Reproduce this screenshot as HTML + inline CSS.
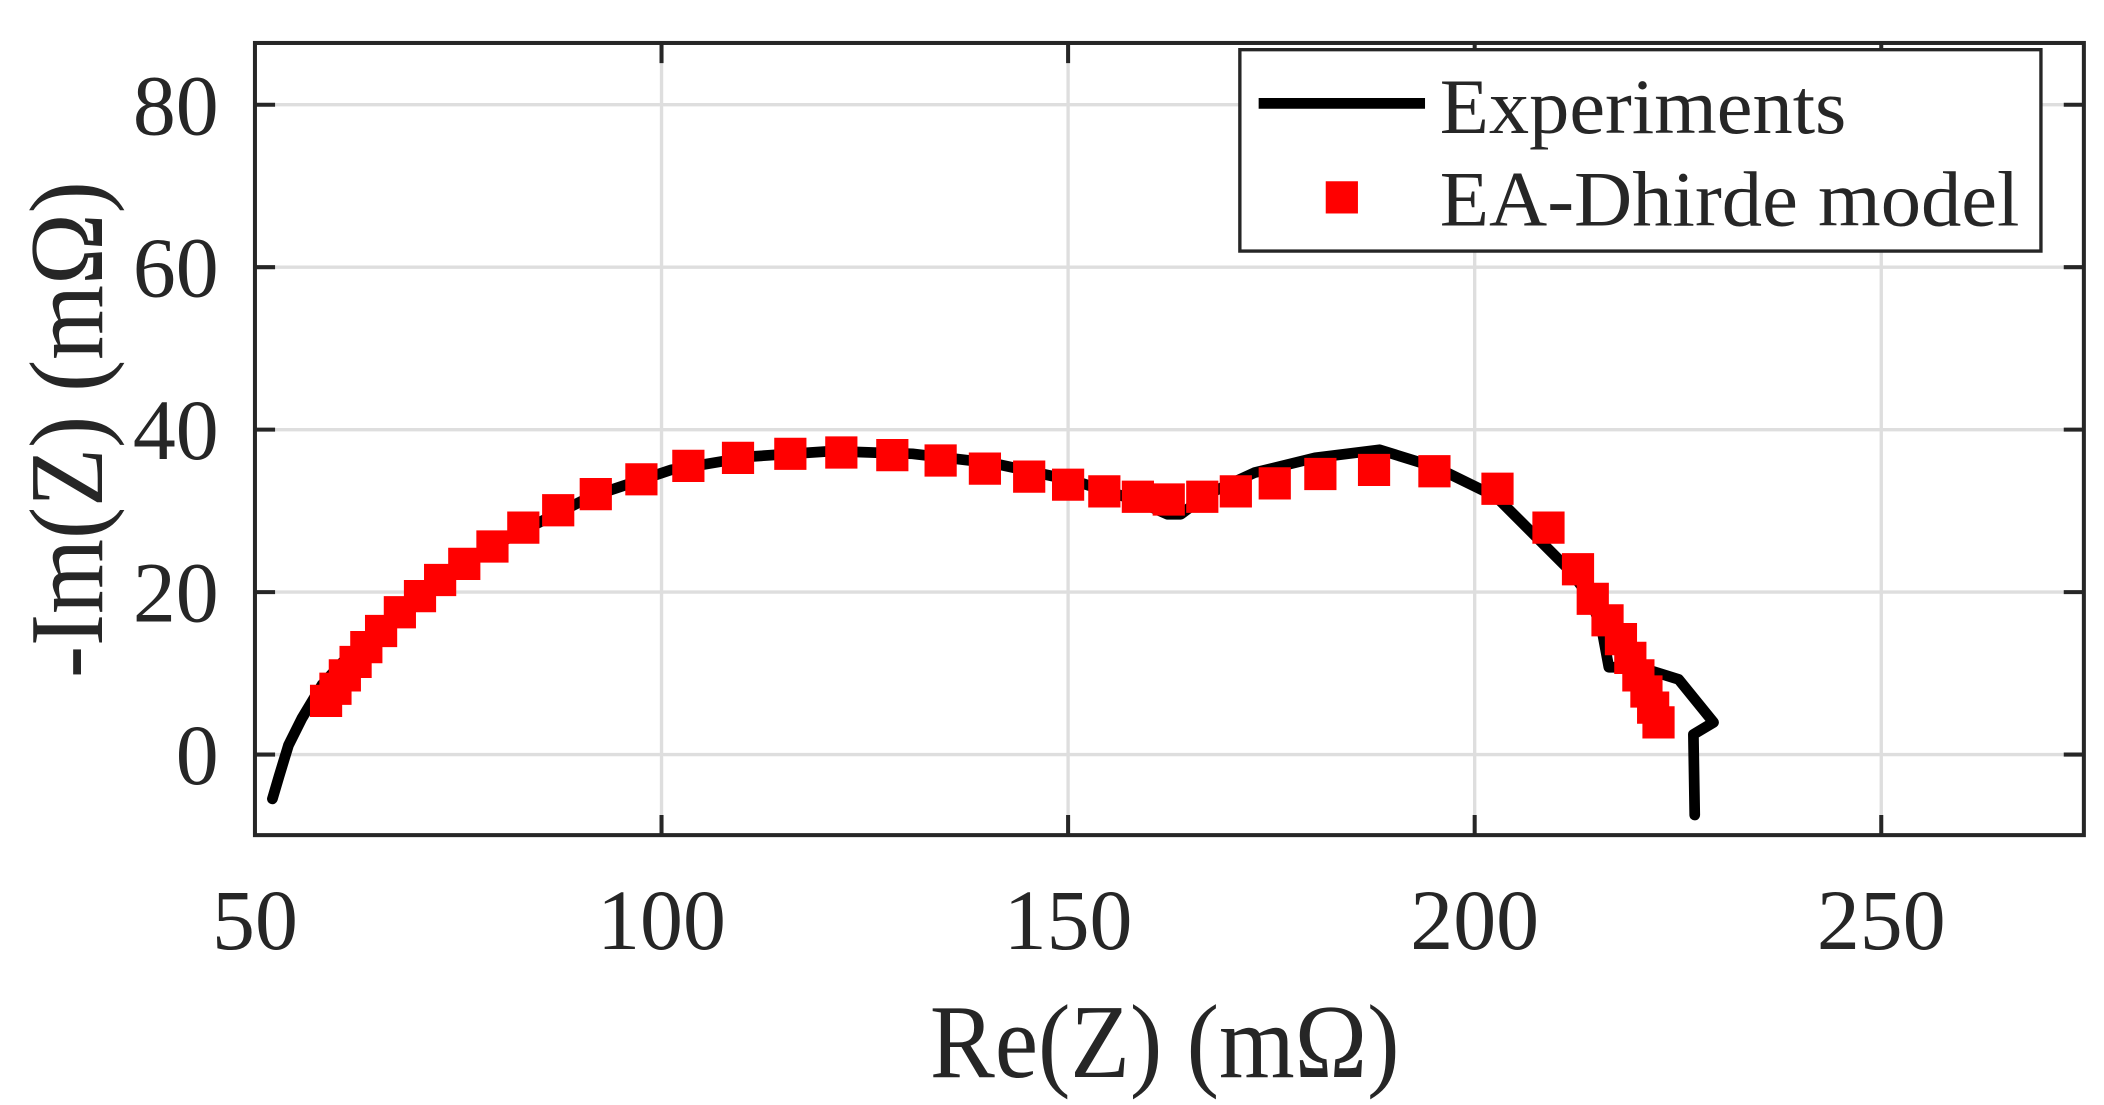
<!DOCTYPE html>
<html><head><meta charset="utf-8"><style>
html,body{margin:0;padding:0;background:#fff;}
svg{display:block;}
text{font-family:"Liberation Serif","Times New Roman",serif;fill:#262626;}
</style></head><body>
<svg width="2104" height="1105" viewBox="0 0 1568 823" preserveAspectRatio="none">
<rect width="1568" height="823" fill="#fff"/>
<g stroke="#dedede" stroke-width="2.5">
<line x1="493" y1="32" x2="493" y2="622"/><line x1="796" y1="32" x2="796" y2="622"/>
<line x1="1099" y1="32" x2="1099" y2="622"/><line x1="1402" y1="32" x2="1402" y2="622"/>
<line x1="190" y1="78" x2="1553" y2="78"/><line x1="190" y1="199" x2="1553" y2="199"/>
<line x1="190" y1="320" x2="1553" y2="320"/><line x1="190" y1="441" x2="1553" y2="441"/>
<line x1="190" y1="562" x2="1553" y2="562"/>
</g>
<g stroke="#262626" stroke-width="3" fill="none">
<rect x="190" y="32" width="1363" height="590"/>
<path d="M190 78h15M190 199h15M190 320h15M190 441h15M190 562h15M1553 78h-15M1553 199h-15M1553 320h-15M1553 441h-15M1553 562h-15"/>
<path d="M493 622v-15M796 622v-15M1099 622v-15M1402 622v-15M493 32v15M796 32v15M1099 32v15M1402 32v15"/>
</g>
<polyline fill="none" stroke="#000" stroke-width="8" stroke-linejoin="round" stroke-linecap="round" points="203,595 208,578 215,555 225,535 240,510 260,488 290,460 330,430 380,400 440,370 500,350 560,340 620,336 680,338 740,345 800,358 845,372 870,383 880,383 900,368 935,352 980,341 1028,335 1070,348 1115,370 1145,400 1170,425 1185,445 1194,470 1199,497 1222,497 1251,506 1277,538 1262,547 1263,607"/>
<g fill="#f00">
<path d="M243 522m-12 -12h24v24h-24z M250 513m-12 -12h24v24h-24z M257 503m-12 -12h24v24h-24z M265 493m-12 -12h24v24h-24z M273 482m-12 -12h24v24h-24z M284 470m-12 -12h24v24h-24z M298 456m-12 -12h24v24h-24z M313 444m-12 -12h24v24h-24z M328 432m-12 -12h24v24h-24z M346 420m-12 -12h24v24h-24z M367 407m-12 -12h24v24h-24z M390 393m-12 -12h24v24h-24z M416 380m-12 -12h24v24h-24z M444 368m-12 -12h24v24h-24z M478 357m-12 -12h24v24h-24z M513 347m-12 -12h24v24h-24z M550 341m-12 -12h24v24h-24z M589 338m-12 -12h24v24h-24z M627 337m-12 -12h24v24h-24z M665 339m-12 -12h24v24h-24z M701 343m-12 -12h24v24h-24z M734 349m-12 -12h24v24h-24z M767 355m-12 -12h24v24h-24z M796 361m-12 -12h24v24h-24z M823 366m-12 -12h24v24h-24z M848 370m-12 -12h24v24h-24z M871 372m-12 -12h24v24h-24z M896 370m-12 -12h24v24h-24z M921 366m-12 -12h24v24h-24z M950 360m-12 -12h24v24h-24z M984 353m-12 -12h24v24h-24z M1024 350m-12 -12h24v24h-24z M1069 351m-12 -12h24v24h-24z M1116 364m-12 -12h24v24h-24z M1154 393m-12 -12h24v24h-24z M1176 424m-12 -12h24v24h-24z M1187 446m-12 -12h24v24h-24z M1198 462m-12 -12h24v24h-24z M1208 476m-12 -12h24v24h-24z M1215 490m-12 -12h24v24h-24z M1221 503m-12 -12h24v24h-24z M1227 515m-12 -12h24v24h-24z M1232 527m-12 -12h24v24h-24z M1236 538m-12 -12h24v24h-24z"/>
</g>
<g font-size="64" text-anchor="end">
<text x="163" y="100">80</text><text x="163" y="221">60</text><text x="163" y="342">40</text>
<text x="163" y="463">20</text><text x="163" y="584">0</text>
</g>
<g font-size="64" text-anchor="middle">
<text x="190" y="707">50</text><text x="493" y="707">100</text><text x="796" y="707">150</text>
<text x="1099" y="707">200</text><text x="1402" y="707">250</text>
</g>
<text x="868" y="802" font-size="78" text-anchor="middle" textLength="350" lengthAdjust="spacingAndGlyphs">Re(Z) (mΩ)</text>
<text transform="translate(76,320) rotate(-90)" font-size="78" text-anchor="middle" textLength="370" lengthAdjust="spacingAndGlyphs">-Im(Z) (mΩ)</text>
<rect x="924" y="37" width="597" height="150" fill="#fff" stroke="#262626" stroke-width="2.5"/>
<line x1="938" y1="77" x2="1062" y2="77" stroke="#000" stroke-width="8"/>
<rect x="988" y="135" width="24" height="24" fill="#f00"/>
<g font-size="58" text-anchor="start">
<text x="1073" y="99" textLength="303" lengthAdjust="spacingAndGlyphs">Experiments</text>
<text x="1073" y="168" textLength="432" lengthAdjust="spacingAndGlyphs">EA-Dhirde model</text>
</g>
</svg>
</body></html>
